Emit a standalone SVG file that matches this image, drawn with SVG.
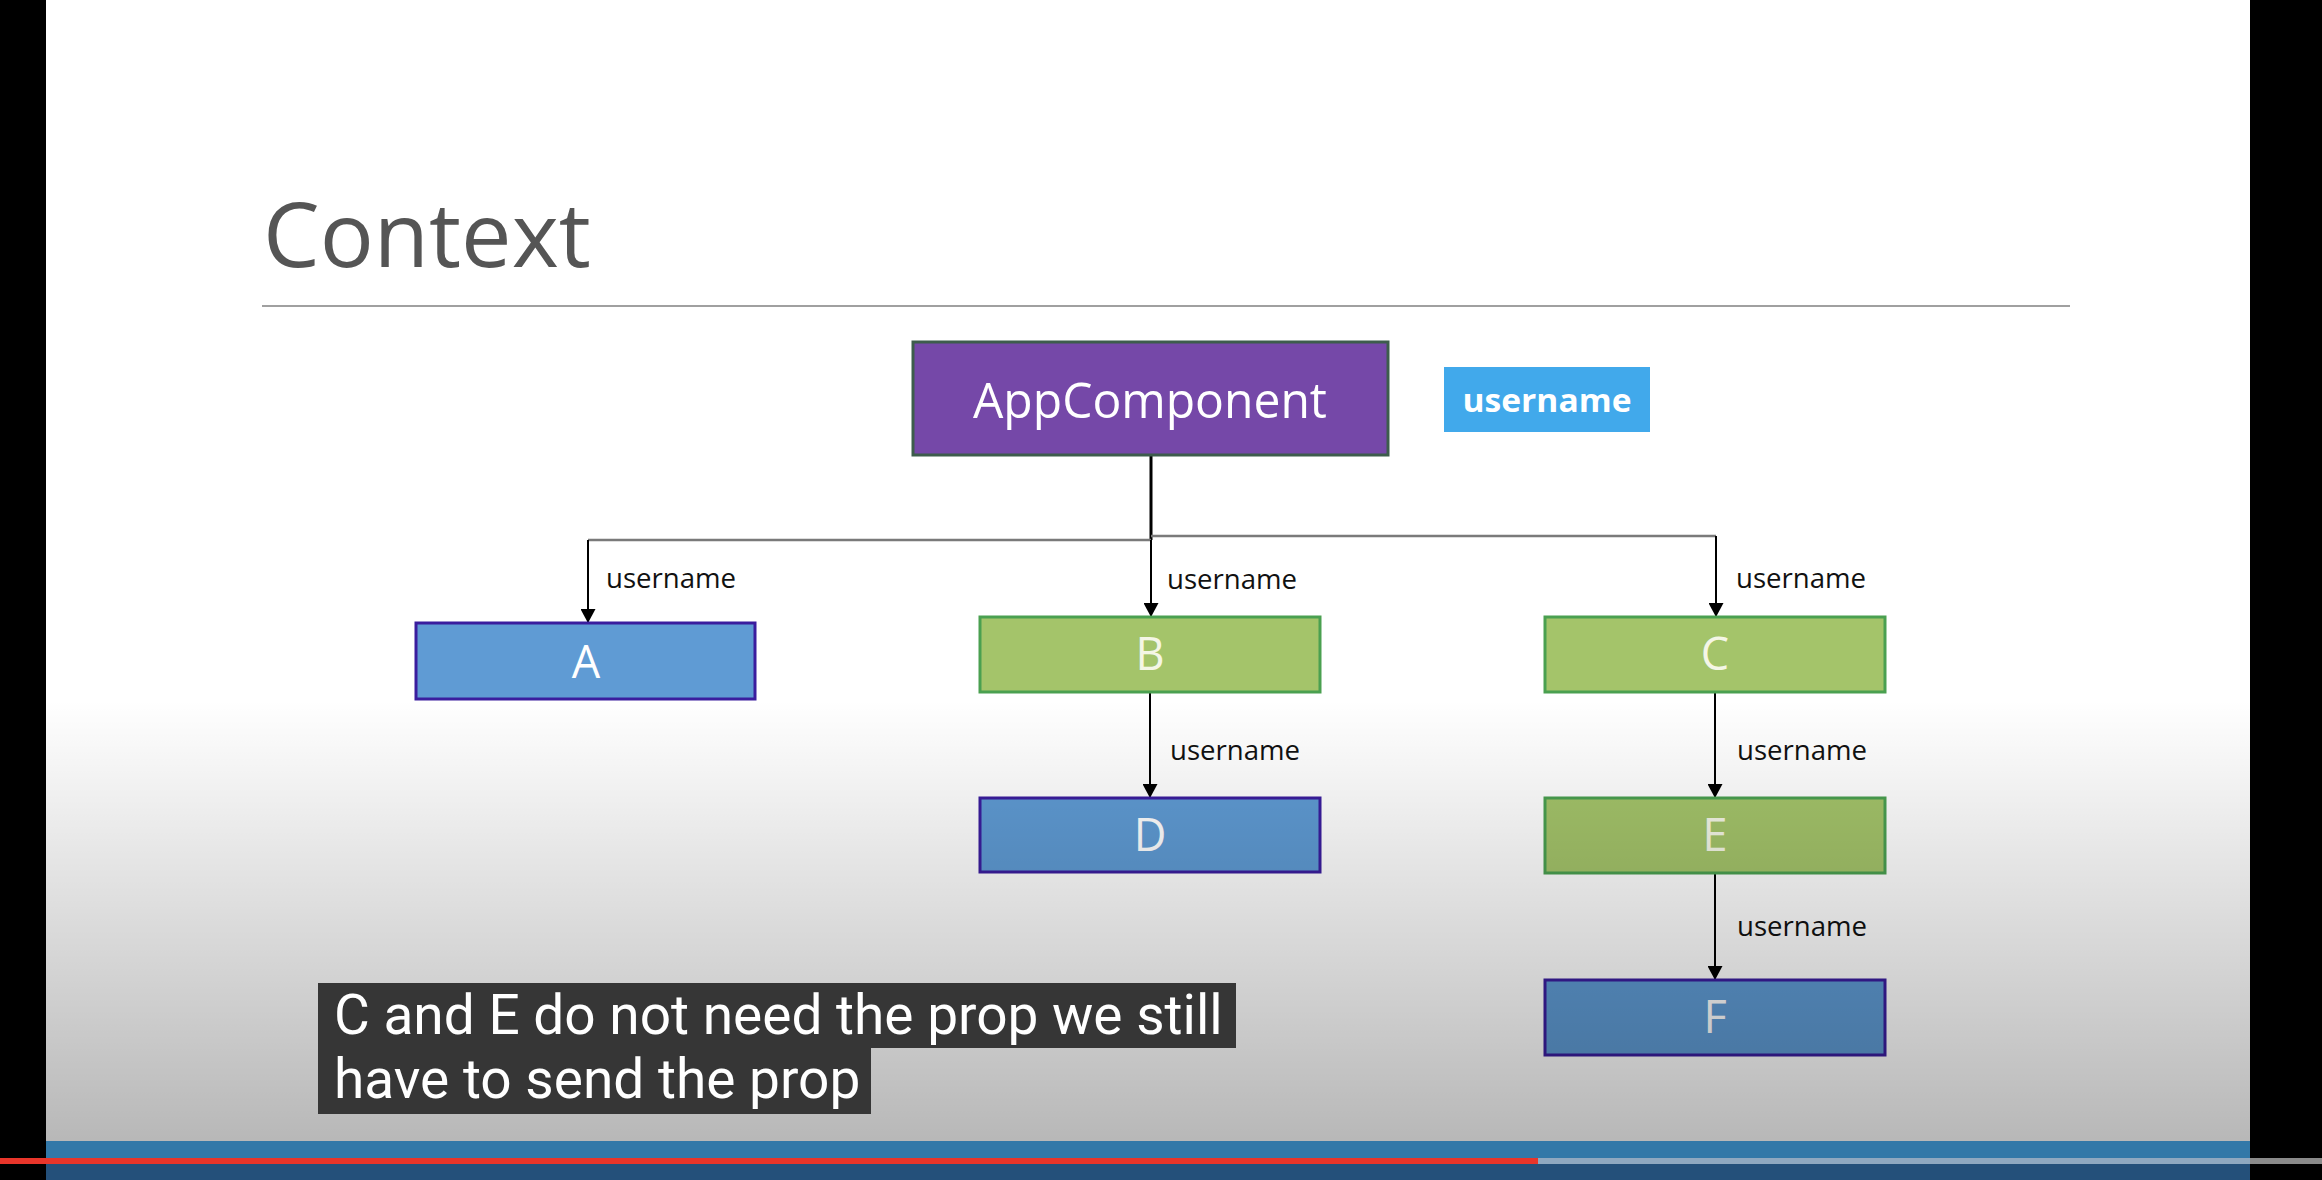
<svg xmlns="http://www.w3.org/2000/svg" width="2322" height="1180" viewBox="0 0 2322 1180">
<defs>
<style>
.node-a{fill:#5f9bd4;stroke:#3a1d9e;stroke-width:3}
.node-g{fill:#a4c46a;stroke:#4aa050;stroke-width:3}
.lbl{font-family:"Open Sans","Noto Sans",sans-serif;font-size:28px;fill:#111}
.let{font-family:"Open Sans","Noto Sans",sans-serif;font-size:45px;fill:#ffffff;text-anchor:middle}
.letg{fill:#f4f6e6}
.conn{stroke:#000;stroke-width:2;fill:none}
.sub{font-family:Roboto,"Liberation Sans",sans-serif;font-size:55px;fill:#ffffff}
</style>
<marker id="arr" viewBox="0 0 14 15" refX="14" refY="7.5" markerWidth="14" markerHeight="15" markerUnits="userSpaceOnUse" orient="auto">
<path d="M0,0 L14,7.5 L0,15 Z" fill="#000"/>
</marker>
<linearGradient id="shade" x1="0" y1="0" x2="0" y2="1">
<stop offset="0" stop-color="#000" stop-opacity="0"/>
<stop offset="1" stop-color="#000" stop-opacity="0.28"/>
</linearGradient>
</defs>
<rect x="0" y="0" width="2322" height="1180" fill="#ffffff"/>
<text x="263" y="267" font-family="'Open Sans','Noto Sans',sans-serif" font-size="90" fill="#555555">Context</text>
<line x1="262" y1="306" x2="2070" y2="306" stroke="#a0a0a0" stroke-width="2"/>

<g id="connectors">
<line x1="1151" y1="455" x2="1151" y2="540" stroke="#000" stroke-width="3"/>
<polyline points="1151,540 588,540" stroke="#7a7a7a" stroke-width="2.5" fill="none"/>
<polyline points="1151,536 1716,536" stroke="#7a7a7a" stroke-width="2.5" fill="none"/>
<line class="conn" x1="588" y1="540" x2="588" y2="623" marker-end="url(#arr)"/>
<line class="conn" x1="1151" y1="540" x2="1151" y2="617" marker-end="url(#arr)"/>
<line class="conn" x1="1716" y1="536" x2="1716" y2="617" marker-end="url(#arr)"/>
<line class="conn" x1="1150" y1="692" x2="1150" y2="798" marker-end="url(#arr)"/>
<line class="conn" x1="1715" y1="692" x2="1715" y2="798" marker-end="url(#arr)"/>
<line class="conn" x1="1715" y1="873" x2="1715" y2="980" marker-end="url(#arr)"/>
<text class="lbl" x="606" y="588" textLength="130" lengthAdjust="spacingAndGlyphs">username</text>
<text class="lbl" x="1167" y="589" textLength="130" lengthAdjust="spacingAndGlyphs">username</text>
<text class="lbl" x="1736" y="588" textLength="130" lengthAdjust="spacingAndGlyphs">username</text>
<text class="lbl" x="1170" y="760" textLength="130" lengthAdjust="spacingAndGlyphs">username</text>
<text class="lbl" x="1737" y="760" textLength="130" lengthAdjust="spacingAndGlyphs">username</text>
<text class="lbl" x="1737" y="936" textLength="130" lengthAdjust="spacingAndGlyphs">username</text>
</g>

<g id="app">
<rect x="913" y="342" width="475" height="113" fill="#7548a8" stroke="#3d5c4c" stroke-width="3"/>
<text x="1150" y="418" text-anchor="middle" font-family="'Open Sans','Noto Sans',sans-serif" font-size="50" fill="#ffffff" textLength="354" lengthAdjust="spacingAndGlyphs">AppComponent</text>
</g>
<g id="badge">
<rect x="1444" y="367" width="206" height="65" fill="#41a9eb"/>
<text x="1547" y="412" text-anchor="middle" font-family="'Open Sans','Noto Sans',sans-serif" font-weight="bold" font-size="32" fill="#ffffff" textLength="169" lengthAdjust="spacingAndGlyphs">username</text>
</g>
<g id="nodeA"><rect class="node-a" x="416" y="623" width="339" height="76"/><text class="let" x="586" y="678">A</text></g>
<g id="nodeB"><rect class="node-g" x="980" y="617" width="340" height="75"/><text class="let letg" x="1150" y="670">B</text></g>
<g id="nodeC"><rect class="node-g" x="1545" y="617" width="340" height="75"/><text class="let letg" x="1715" y="670">C</text></g>
<g id="nodeD"><rect class="node-a" x="980" y="798" width="340" height="74"/><text class="let" x="1150" y="851">D</text></g>
<g id="nodeE"><rect class="node-g" x="1545" y="798" width="340" height="75"/><text class="let letg" x="1715" y="851">E</text></g>
<g id="nodeF"><rect class="node-a" x="1545" y="980" width="340" height="75"/><text class="let" x="1715" y="1033">F</text></g>

<rect x="0" y="700" width="2322" height="441" fill="url(#shade)"/>

<g id="subtitles">
<rect x="318" y="983" width="918" height="65" fill="#363636"/>
<rect x="318" y="1048" width="553" height="66" fill="#363636"/>
<text class="sub" x="334" y="1034">C and E do not need the prop we still</text>
<text class="sub" x="334" y="1098">have to send the prop</text>
</g>

<rect x="46" y="1141" width="2204" height="17" fill="#3278a8"/>
<rect x="46" y="1164" width="2204" height="16" fill="#24507a"/>
<rect x="0" y="0" width="46" height="1180" fill="#000"/>
<rect x="2250" y="0" width="72" height="1180" fill="#000"/>
<rect x="0" y="1158" width="1538" height="6" fill="#e8352a"/>
<rect x="1538" y="1158" width="712" height="6" fill="#8fa8c0"/>
<rect x="2250" y="1158" width="72" height="6" fill="#8a8a8a"/>
</svg>
